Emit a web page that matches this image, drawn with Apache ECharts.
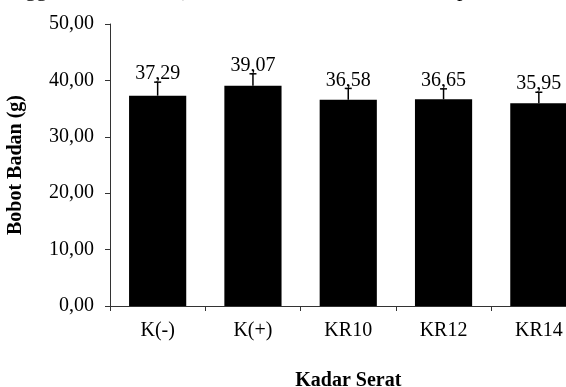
<!DOCTYPE html>
<html>
<head>
<meta charset="utf-8">
<script src="https://cdn.jsdelivr.net/npm/echarts@6/dist/echarts.min.js"></script>
<style>
html,body{margin:0;padding:0;background:#fff;}
#chart{width:566px;height:387px;}
</style>
</head>
<body>
<div id="chart"></div>
<script>
var categories = ['K(-)', 'K(+)', 'KR10', 'KR12', 'KR14'];
var values = [37.29, 39.07, 36.58, 36.65, 35.95];
var errors = [2.4, 2.1, 2.0, 1.85, 1.95];
var yTicks = [0, 10, 20, 30, 40, 50];

var FONT = 'Liberation Serif';
function fmt(v){ return v.toFixed(2).replace('.', ','); }

var chart = echarts.init(document.getElementById('chart'), null, {renderer:'canvas'});
var errData = categories.map(function(c, i){ return [i, values[i], errors[i]]; });

chart.setOption({
  animation: false,
  backgroundColor: '#fff',
  grid: {left: 110, top: 24, width: 476.5, height: 282, containLabel: false, outerBoundsMode: 'none'},
  xAxis: {
    type: 'category',
    data: categories,
    boundaryGap: true,
    name: 'Kadar Serat',
    nameLocation: 'middle',
    nameGap: 65,
    nameTextStyle: {fontFamily: FONT, fontWeight: 'bold', fontSize: 20, color: '#000'},
    axisLine: {lineStyle: {color: '#333', width: 1}},
    axisTick: {show: true, length: 5, inside: false, alignWithLabel: false, lineStyle: {color: '#333'}},
    axisLabel: {fontFamily: FONT, fontSize: 20, color: '#000', margin: 15}
  },
  yAxis: {
    type: 'value',
    min: 0, max: 50, interval: 10,
    name: 'Bobot Badan (g)',
    nameLocation: 'middle',
    nameGap: 84,
    nameRotate: 90,
    nameTextStyle: {fontFamily: FONT, fontWeight: 'bold', fontSize: 20, color: '#000'},
    axisLine: {show: true, lineStyle: {color: '#333', width: 1}},
    axisTick: {show: true, length: 5, lineStyle: {color: '#333'}},
    splitLine: {show: false},
    axisLabel: {fontFamily: FONT, fontSize: 20, color: '#000', margin: 16,
      formatter: function(v){ return fmt(v); }}
  },
  graphic: [
    {type: 'text', left: 25, top: -21, style: {text: 'gg', font: '22px "Liberation Serif"', fill: '#000'}},
    {type: 'text', left: 182, top: -21, style: {text: ')', font: '22px "Liberation Serif"', fill: '#000'}},
    {type: 'text', left: 457, top: -21, style: {text: 'p', font: '22px "Liberation Serif"', fill: '#000'}}
  ],
  series: [
    {
      type: 'bar',
      data: values,
      barCategoryGap: '40%',
      itemStyle: {color: '#000'},
      z: 2
    },
    {
      type: 'custom',
      data: errData,
      z: 3,
      renderItem: function(params, api){
        var x = api.value(0);
        var top = api.coord([x, api.value(1) + api.value(2)]);
        var base = api.coord([x, api.value(1)]);
        var cap = 3.5;
        return {
          type: 'group',
          children: [
            {type: 'line', shape: {x1: base[0], y1: base[1], x2: top[0], y2: top[1]},
              style: {stroke: '#000', lineWidth: 1.5}},
            {type: 'line', shape: {x1: top[0] - cap, y1: top[1], x2: top[0] + cap, y2: top[1]},
              style: {stroke: '#000', lineWidth: 1.5}},
            {type: 'text', x: top[0], y: top[1] + 2,
              style: {text: fmt(api.value(1)), font: '20px "Liberation Serif"', fill: '#000',
                align: 'center', verticalAlign: 'bottom'}}
          ]
        };
      }
    }
  ]
});
</script>
</body>
</html>
